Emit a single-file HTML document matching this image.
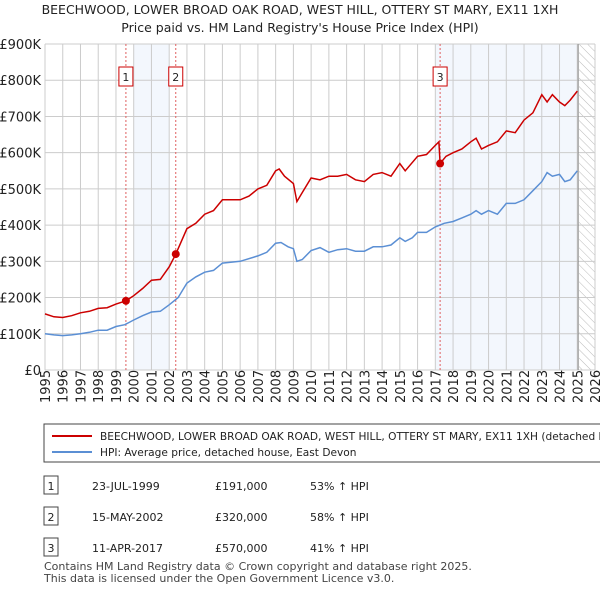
<!DOCTYPE html>
<html><head><meta charset="utf-8"><style>
body{margin:0;background:#fff;font-family:"Liberation Sans","DejaVu Sans",sans-serif;}
svg text{font-family:"DejaVu Sans","Liberation Sans",sans-serif;}
</style></head><body>
<svg id="c" width="600" height="590" xmlns="http://www.w3.org/2000/svg">
<defs><pattern id="hatch" width="6" height="6" patternUnits="userSpaceOnUse" patternTransform="rotate(-45)"><line x1="0" y1="0" x2="0" y2="6" stroke="#bbb" stroke-width="1"/></pattern></defs>
<text x="300" y="14" text-anchor="middle" font-size="12.5" fill="#222">BEECHWOOD, LOWER BROAD OAK ROAD, WEST HILL, OTTERY ST MARY, EX11 1XH</text>
<text x="300" y="32" text-anchor="middle" font-size="12.5" fill="#222">Price paid vs. HM Land Registry's House Price Index (HPI)</text>
<g id="plot"></g>
<rect x="44" y="424" width="570" height="38" fill="#fff" stroke="#444"/>
<line x1="52" y1="436" x2="92" y2="436" stroke="#cc0000" stroke-width="2"/>
<text x="100" y="440" font-size="10.6" fill="#222">BEECHWOOD, LOWER BROAD OAK ROAD, WEST HILL, OTTERY ST MARY, EX11 1XH (detached h</text>
<line x1="52" y1="452" x2="92" y2="452" stroke="#5b8fd4" stroke-width="2"/>
<text x="100" y="456" font-size="10.6" fill="#222">HPI: Average price, detached house, East Devon</text>
<g id="tbl" font-size="11" fill="#222"></g>
<text x="44" y="570" font-size="11" fill="#444">Contains HM Land Registry data © Crown copyright and database right 2025.</text>
<text x="44" y="582" font-size="11" fill="#444">This data is licensed under the Open Government Licence v3.0.</text>
</svg>
<script>
const hpiYears=[1995,1995.5,1996,1996.5,1997,1997.5,1998,1998.5,1999,1999.5,2000,2000.5,2001,2001.5,2002,2002.5,2003,2003.5,2004,2004.5,2005,2006,2007,2007.5,2008,2008.3,2008.7,2009,2009.2,2009.5,2010,2010.5,2011,2011.5,2012,2012.5,2013,2013.5,2014,2014.5,2015,2015.3,2015.7,2016,2016.5,2017,2017.5,2018,2018.5,2019,2019.3,2019.6,2020,2020.5,2021,2021.5,2022,2022.5,2023,2023.3,2023.6,2024,2024.3,2024.6,2025];
const hpiValues=[100,97,95,97,100,104,110,110,120,125,138,150,160,162,180,200,240,257,270,275,295,300,315,325,350,352,340,335,300,305,330,338,325,332,335,328,328,340,340,345,365,355,365,380,380,395,405,410,420,430,440,430,440,430,460,460,470,495,520,545,535,540,520,525,550];
const ppYears=[1995,1995.5,1996,1996.5,1997,1997.5,1998,1998.5,1999,1999.56,2000,2000.5,2001,2001.5,2002,2002.37,2003,2003.5,2004,2004.5,2005,2006,2006.5,2007,2007.5,2008,2008.2,2008.5,2009,2009.2,2009.5,2010,2010.5,2011,2011.5,2012,2012.5,2013,2013.5,2014,2014.5,2015,2015.3,2016,2016.5,2017,2017.2,2017.27,2017.6,2018,2018.5,2019,2019.3,2019.6,2020,2020.5,2021,2021.5,2022,2022.5,2023,2023.3,2023.6,2024,2024.3,2024.6,2025];
const ppValues=[155,147,145,150,158,162,170,172,182,191,205,225,248,250,285,320,390,405,430,440,470,470,480,500,510,550,555,535,515,465,490,530,525,535,535,540,525,520,540,545,535,570,550,590,595,620,630,570,590,600,610,630,640,610,620,630,660,655,690,710,760,740,760,740,730,745,770];
const saleYears=[1999.56,2002.37,2017.27];
const saleValues=[191,320,570];
const saleLabels=["1","2","3"];
const saleDates=["23-JUL-1999","15-MAY-2002","11-APR-2017"];
const salePrices=["£191,000","£320,000","£570,000"];
const saleHpi=["53% ↑ HPI","58% ↑ HPI","41% ↑ HPI"];
const yTicks=[0,100,200,300,400,500,600,700,800,900];
const yTickLabels=["£0","£100K","£200K","£300K","£400K","£500K","£600K","£700K","£800K","£900K"];
const xTicks=[1995,1996,1997,1998,1999,2000,2001,2002,2003,2004,2005,2006,2007,2008,2009,2010,2011,2012,2013,2014,2015,2016,2017,2018,2019,2020,2021,2022,2023,2024,2025,2026];

const X0=45,X1=595,Y0=370,Y1=44;
const xs=y=>X0+(y-1995)/(2026-1995)*(X1-X0);
const ys=v=>Y0-v/900*(Y0-Y1);
const NS="http://www.w3.org/2000/svg";
const g=document.getElementById('plot');
function mk(t,a,p){const e=document.createElementNS(NS,t);for(const k in a)e.setAttribute(k,a[k]);(p||g).appendChild(e);return e;}
let e;
e=mk('rect',{x:xs(2000),y:Y1,width:xs(2002)-xs(2000),height:Y0-Y1,fill:'#eef3fc',opacity:0.7});


e=mk('rect',{x:xs(2017),y:Y1,width:xs(2025)-xs(2017),height:Y0-Y1,fill:'#eef3fc',opacity:0.7});


e=mk('rect',{x:xs(2025.1),y:Y1,width:X1-xs(2025.1),height:Y0-Y1,fill:'url(#hatch)'});


yTicks.forEach((v,i)=>{
 e=mk('line',{x1:X0,x2:X1,y1:ys(v),y2:ys(v),stroke:'#ccc'});
 
 
 e=mk('text',{x:X0-4,y:ys(v)+5,'text-anchor':'end','font-size':13,fill:'#222'});e.textContent=yTickLabels[i];
 
 
});
xTicks.forEach(y=>{
 e=mk('line',{x1:xs(y),x2:xs(y),y1:Y1,y2:Y0,stroke:'#ccc'});
 
 
 e=mk('text',{x:0,y:0,transform:`translate(${xs(y)+5},${Y0+33}) rotate(-90)`,'font-size':13,fill:'#222'});e.textContent=y;
 
 
});
e=mk('line',{x1:xs(2025.05),x2:xs(2025.05),y1:Y1,y2:Y0,stroke:'#888'});


saleYears.forEach((y,i)=>{
 e=mk('line',{x1:xs(y),x2:xs(y),y1:Y1,y2:Y0,stroke:'#e06060','stroke-dasharray':'2,2'});
 
 
 e=mk('rect',{x:xs(y)-7,y:67,width:14,height:19,fill:'#fff',stroke:'#cc0000'});
 
 
 e=mk('text',{x:xs(y),y:81,'text-anchor':'middle','font-size':11,fill:'#222'});e.textContent=saleLabels[i];
 
 
});
e=mk('path',{d:hpiYears.map((y,i)=>(i?'L':'M')+xs(y).toFixed(1)+','+ys(hpiValues[i]).toFixed(1)).join(''),fill:'none',stroke:'#5b8fd4','stroke-width':1.5});


e=mk('path',{d:ppYears.map((y,i)=>(i?'L':'M')+xs(y).toFixed(1)+','+ys(ppValues[i]).toFixed(1)).join(''),fill:'none',stroke:'#cc0000','stroke-width':1.5});


saleYears.forEach((y,i)=>{
 e=mk('circle',{cx:xs(y),cy:ys(saleValues[i]),r:4,fill:'#cc0000'});
 
 
});
const t=document.getElementById('tbl');
saleLabels.forEach((l,i)=>{
 const yy=488+i*31;
 e=mk('rect',{x:44,y:yy-12,width:14,height:18,fill:'#fff',stroke:'#444'},t);
 
 
 e=mk('text',{x:51,y:yy+2,'text-anchor':'middle'},t);e.textContent=l;
 
 
 e=mk('text',{x:92,y:yy+2},t);e.textContent=saleDates[i];
 
 
 e=mk('text',{x:215,y:yy+2},t);e.textContent=salePrices[i];
 
 
 e=mk('text',{x:310,y:yy+2},t);e.textContent=saleHpi[i];
 
 
});
</script>
</body></html>
